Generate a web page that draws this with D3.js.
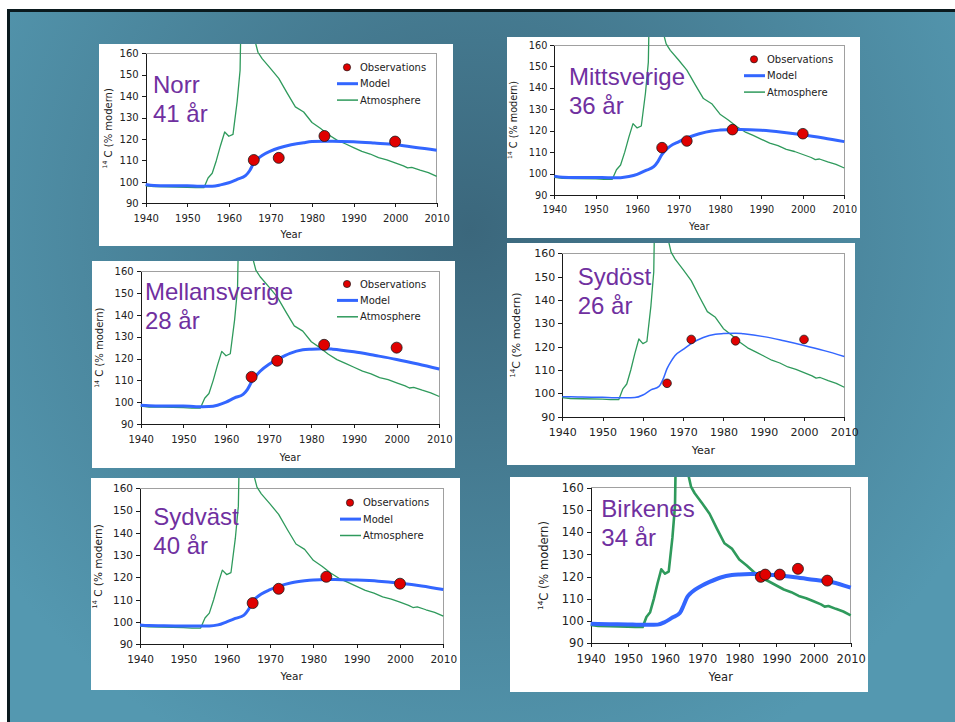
<!DOCTYPE html>
<html lang="sv">
  <head>
    <meta charset="UTF-8" />
    <title>14C i skogsmark – modell och observationer</title>
    <script src="https://cdn.jsdelivr.net/npm/d3@7"></script>
    <style>
      body {
        margin: 0;
        background: #fff;
      }
      svg {
        display: block;
      }
      .axis path,
      .axis line {
        stroke: #1a1a1a;
        shape-rendering: crispEdges;
      }
      .axis text {
        font-family: 'DejaVu Sans', Verdana, sans-serif;
        fill: #222;
      }
      .frame {
        fill: none;
        stroke: #a0a0a0;
        shape-rendering: crispEdges;
      }
      .label {
        font-family: 'DejaVu Sans', Verdana, sans-serif;
        fill: #222;
      }
      .title {
        font: 24px 'Liberation Sans', Arial, sans-serif;
        fill: #7030a0;
      }
      .legend text {
        font: 10px 'DejaVu Sans', Verdana, sans-serif;
        fill: #222;
      }
    </style>
  </head>
  <body>
    <svg id="chart" width="955" height="722"></svg>
    <script>
      // axis ticks
      const xTicks = [1940, 1950, 1960, 1970, 1980, 1990, 2000, 2010];
      const yTicks = [90, 100, 110, 120, 130, 140, 150, 160];

      // atmospheric 14C (same curve in every panel)
      const atmYears = [1940, 1942, 1945, 1950, 1952, 1954, 1955, 1956, 1957, 1958, 1959, 1960, 1961, 1962, 1962.7, 1963, 1964, 1965, 1966, 1967, 1968, 1970, 1972, 1974, 1976, 1978, 1980, 1982, 1984, 1986, 1988, 1990, 1992, 1994, 1996, 1998, 2000, 2002, 2003, 2004, 2006, 2008, 2010];
      const atmValues = [98.2, 97.8, 97.7, 97.5, 97.3, 97.3, 101.8, 104, 110, 117, 123.3, 121.3, 122.2, 137.5, 152, 185, 190, 178, 168, 160.5, 157.5, 153, 148.3, 141.5, 135, 132.6, 127.7, 125, 122, 119.5, 117.8, 116, 114.2, 113, 111.3, 110.3, 108.9, 107.5, 106.5, 106.8, 105.5, 104.3, 102.6];

      // model curves
      const modelYears = [1940, 1942, 1945, 1950, 1953, 1956, 1958, 1960, 1962, 1964, 1965, 1966, 1967, 1968, 1970, 1972, 1975, 1978, 1980, 1983, 1985, 1990, 1995, 2000, 2005, 2010];
      const modelNorr = [98.8, 98.3, 98.2, 98.2, 98.0, 98.0, 98.6, 99.6, 101.2, 102.9, 105.2, 108.8, 110.8, 112.3, 114.3, 115.8, 117.3, 118.3, 118.8, 119.0, 119.0, 118.7, 118.1, 117.4, 116.0, 114.8];
      const modelMitt = [98.8, 98.3, 98.2, 98.2, 98.1, 98.1, 98.6, 99.6, 101.4, 103.2, 105.6, 109.0, 111.2, 112.8, 114.8, 116.6, 118.6, 119.9, 120.3, 120.6, 120.6, 120.2, 119.3, 118.1, 116.6, 114.9];
      const modelMellan = [98.6, 98.4, 98.3, 98.3, 97.9, 98.0, 98.6, 100.0, 102.0, 103.6, 105.8, 109.3, 112.0, 114.2, 117.3, 119.5, 122.4, 124.0, 124.3, 124.5, 124.3, 123.1, 121.4, 119.6, 117.5, 115.2];
      const modelSydost = [98.6, 98.5, 98.4, 98.3, 98.1, 98.1, 98.2, 99.3, 101.5, 103.0, 106.0, 110.6, 113.7, 116.2, 118.8, 121.3, 123.9, 125.3, 125.6, 125.8, 125.5, 124.3, 122.5, 120.5, 118.3, 115.8];
      const modelSydvast = [98.7, 98.4, 98.3, 98.2, 98.2, 98.2, 98.7, 100.1, 101.6, 103.1, 105.5, 109.2, 111.2, 112.6, 114.5, 116.0, 117.6, 118.5, 118.9, 119.1, 119.1, 118.8, 118.3, 117.4, 116.2, 114.6];
      const modelBirkenes = [98.8, 98.7, 98.6, 98.5, 98.3, 98.3, 98.4, 99.6, 101.6, 103.6, 107.0, 110.8, 112.7, 114.0, 116.0, 117.6, 119.6, 120.7, 121.0, 121.2, 121.1, 120.6, 119.7, 118.6, 117.5, 115.0];

      // observations
      const obsYears = [1966, 1972, 1983, 2000];
      const obsNorr = [110.2, 111.2, 121.4, 118.8];
      const obsMitt = [112.1, 115.2, 120.5, 118.6];
      const obsMellan = [111.6, 119.0, 126.3, 125.0];
      const obsSydost = [104.3, 123.1, 122.5, 123.1];
      const obsSydvast = [108.5, 114.9, 120.3, 117.2];
      const obsYearsBirkenes = [1985.8, 1987, 1990.9, 1995.8, 2003.7];
      const obsBirkenes = [119.9, 120.9, 120.9, 123.5, 118.2];

      const seriesNames = ['Observations', 'Model', 'Atmosphere'];

      const blue = '#3366ff';
      const green = '#2f9a5c';
      const red = '#e00000';

      // layout of the six panels (absolute pixels on the slide)
      const panels = [
        { name: 'Norr', age: '41 år', model: modelNorr, ox: obsYears, oy: obsNorr,
          box: [99, 44, 354, 202], plot: [145.7, 53.3, 436.7, 203.3], fs: 10, yLabelX: 110,
          sup: true, yearDy: 35, title: [153, 93], legend: [337, 67.3], r: 5.5, mw: 3, aw: 1.3 },
        { name: 'Mittsverige', age: '36 år', model: modelMitt, ox: obsYears, oy: obsMitt,
          box: [507, 37, 353, 201], plot: [554.3, 45, 844.3, 195], fs: 9.7, yLabelX: 515,
          sup: true, yearDy: 34.5, title: [569, 85], legend: [744, 59.3], r: 5.3, mw: 3, aw: 1.3 },
        { name: 'Mellansverige', age: '28 år', model: modelMellan, ox: obsYears, oy: obsMellan,
          box: [92, 261, 363, 207], plot: [140.7, 271.3, 439.3, 424], fs: 10, yLabelX: 101.5,
          sup: true, yearDy: 36.5, title: [145, 299.7], legend: [337, 284], r: 5.5, mw: 3, aw: 1.3 },
        { name: 'Sydöst', age: '26 år', model: modelSydost, ox: obsYears, oy: obsSydost,
          box: [507, 243, 348, 222], plot: [562.3, 253.3, 844.3, 416.7], fs: 11, yLabelX: 518.5,
          sup: false, yearDy: 37.3, title: [577.7, 285], legend: null, r: 4.3, mw: 1.5, aw: 1.3 },
        { name: 'Sydväst', age: '40 år', model: modelSydvast, ox: obsYears, oy: obsSydvast,
          box: [91, 478, 369, 212], plot: [140, 488.3, 443.3, 644.3], fs: 10.5, yLabelX: 100,
          sup: true, yearDy: 35.7, title: [153.3, 525], legend: [340, 502.7], r: 5.5, mw: 3, aw: 1.3 },
        { name: 'Birkenes', age: '34 år', model: modelBirkenes, ox: obsYearsBirkenes, oy: obsBirkenes,
          box: [510, 477, 358, 215], plot: [590.7, 487.7, 850.7, 643.3], fs: 11.5, yLabelX: 546.3,
          sup: false, yearDy: 37.7, title: [601.3, 516.7], legend: null, r: 5.5, mw: 4, aw: 2.6 },
      ];

      const svg = d3.select('#chart');
      const W = +svg.attr('width'),
        H = +svg.attr('height');

      // slide background
      const defs = svg.append('defs');
      const grad = defs
        .append('radialGradient')
        .attr('id', 'bg')
        .attr('gradientUnits', 'userSpaceOnUse')
        .attr('cx', 470)
        .attr('cy', 230)
        .attr('r', 580);
      grad.append('stop').attr('offset', 0).attr('stop-color', '#3b677c');
      grad.append('stop').attr('offset', 1).attr('stop-color', '#5498b0');

      svg.append('rect').attr('width', W).attr('height', H).attr('fill', '#fff');
      svg.append('rect').attr('x', 7).attr('y', 9).attr('width', W - 7).attr('height', H - 9).attr('fill', '#0b1a1e');
      svg.append('rect').attr('x', 10).attr('y', 12).attr('width', W - 10).attr('height', H - 12).attr('fill', 'url(#bg)');

      panels.forEach(function (p, i) {
        const [bx, by, bw, bh] = p.box;
        const [x0, y0, x1, y1] = p.plot;

        const x = d3.scaleLinear().domain([1940, 2010]).range([x0, x1]);
        const y = d3.scaleLinear().domain([90, 160]).range([y1, y0]);

        const g = svg.append('g').attr('class', 'panel');

        g.append('rect').attr('x', bx).attr('y', by).attr('width', bw).attr('height', bh).attr('fill', '#fff');

        defs
          .append('clipPath')
          .attr('id', 'clip' + i)
          .append('rect')
          .attr('x', bx)
          .attr('y', by)
          .attr('width', bw)
          .attr('height', bh);

        // plot area border (top and right)
        g.append('path')
          .attr('class', 'frame')
          .attr('d', 'M' + x0 + ',' + y0 + 'H' + x1 + 'V' + y1);

        const xAxis = g
          .append('g')
          .attr('class', 'axis')
          .attr('transform', 'translate(0,' + y1 + ')')
          .call(d3.axisBottom(x).tickValues(xTicks).tickFormat(d3.format('d')).tickSize(4).tickSizeOuter(0).tickPadding(7.5));
        xAxis.selectAll('text').style('font-size', p.fs + 'px');

        const yAxis = g
          .append('g')
          .attr('class', 'axis')
          .attr('transform', 'translate(' + x0 + ',0)')
          .call(d3.axisLeft(y).tickValues(yTicks).tickSize(4).tickSizeOuter(0).tickPadding(3));
        yAxis.selectAll('text').style('font-size', p.fs + 'px');

        // axis titles
        g.append('text')
          .attr('class', 'label')
          .attr('x', (x0 + x1) / 2)
          .attr('y', y1 + p.yearDy)
          .attr('text-anchor', 'middle')
          .style('font-size', p.fs + 'px')
          .text('Year');

        const yl = g
          .append('text')
          .attr('class', 'label')
          .attr('text-anchor', 'middle')
          .attr('transform', 'translate(' + p.yLabelX + ',' + (y0 + y1) / 2 + ') rotate(-90)')
          .attr('dy', '0.35em')
          .style('font-size', p.fs + 'px');
        yl.append('tspan').attr('dy', '-0.45em').style('font-size', '0.62em').text('14');
        yl.append('tspan').attr('dy', '0.45em').text((p.sup ? ' ' : '') + 'C (% modern)');

        // series
        const atmLine = d3
          .line()
          .x((d, j) => x(atmYears[j]))
          .y((d) => y(d));
        g.append('path')
          .attr('clip-path', 'url(#clip' + i + ')')
          .attr('d', atmLine(atmValues))
          .attr('fill', 'none')
          .attr('stroke', green)
          .attr('stroke-width', p.aw)
          .attr('stroke-linejoin', 'round');

        const modelLine = d3
          .line()
          .x((d, j) => x(modelYears[j]))
          .y((d) => y(d))
          .curve(d3.curveMonotoneX);
        g.append('path')
          .attr('clip-path', 'url(#clip' + i + ')')
          .attr('d', modelLine(p.model))
          .attr('fill', 'none')
          .attr('stroke', blue)
          .attr('stroke-width', p.mw)
          .attr('stroke-linejoin', 'round');

        g.selectAll('.obs')
          .data(p.oy)
          .enter()
          .append('circle')
          .attr('class', 'obs')
          .attr('cx', (d, j) => x(p.ox[j]))
          .attr('cy', (d) => y(d))
          .attr('r', p.r)
          .attr('fill', red)
          .attr('stroke', '#1a1a1a')
          .attr('stroke-width', 0.8);

        // title
        const t = g.append('text').attr('class', 'title').attr('x', p.title[0]).attr('y', p.title[1]);
        t.append('tspan').attr('x', p.title[0]).text(p.name);
        t.append('tspan').attr('x', p.title[0]).attr('dy', 29).text(p.age);

        // legend
        if (p.legend) {
          const [lx, ly] = p.legend;
          const lg = g.append('g').attr('class', 'legend').attr('transform', 'translate(' + lx + ',' + ly + ')');
          const rows = lg
            .selectAll('g')
            .data(seriesNames)
            .enter()
            .append('g')
            .attr('transform', (d, j) => 'translate(0,' + j * 16.4 + ')');
          rows.filter((d, j) => j === 0)
            .append('circle')
            .attr('cx', 10)
            .attr('r', 3.6)
            .attr('fill', red)
            .attr('stroke', '#1a1a1a')
            .attr('stroke-width', 0.7);
          rows.filter((d, j) => j > 0)
            .append('line')
            .attr('x2', 21)
            .attr('stroke', (d, j) => (d === 'Model' ? blue : green))
            .attr('stroke-width', (d) => (d === 'Model' ? 3 : 1.5));
          rows.append('text')
            .attr('x', 23)
            .attr('dy', '0.35em')
            .text((d) => d);
        }
      });
    </script>
  </body>
</html>
